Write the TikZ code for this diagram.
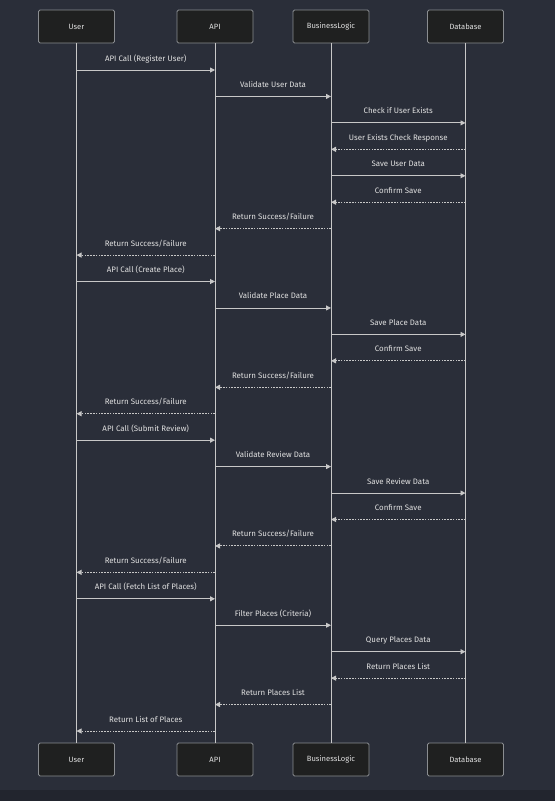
\documentclass[tikz,border=0pt]{standalone}
\usepackage{fontspec}
\setmainfont{Fira Sans}
\usetikzlibrary{arrows.meta,calc}
\definecolor{bgc}{HTML}{2A2E39}
\definecolor{stripc}{HTML}{22252E}
\definecolor{boxfill}{HTML}{1F2020}
\definecolor{boxdraw}{HTML}{8A8D91}
\definecolor{linec}{HTML}{C8C8C8}
\definecolor{txtc}{HTML}{E0E0E0}
\tikzset{
  actor/.style={draw=boxdraw, fill=boxfill, line width=0.8pt, rounded corners=1.5pt,
    minimum width=76pt, minimum height=33pt, inner sep=0pt, text=txtc,
    font=\fontsize{7.6}{9}\selectfont},
  life/.style={draw=linec, line width=0.9pt},
  msg/.style={draw=linec, line width=0.9pt, -{Triangle[length=5pt,width=5pt]}},
  ret/.style={msg, dash pattern=on 1.6pt off 1.2pt},
  lbl/.style={text=txtc, font=\fontsize{7.9}{9}\selectfont, inner sep=0pt, anchor=base},
}
\begin{document}
\begin{tikzpicture}[x=1pt,y=-1pt]
\fill[bgc] (0,0) rectangle (555,801);
\fill[stripc] (0,790) rectangle (555,801);
\useasboundingbox (0,0) rectangle (555,801);
% actors top
\node[actor] (ut) at (76.5,26.5) {User};
\node[actor] (at) at (215,26.5) {API};
\node[actor] (bt) at (331,26.5) {BusinessLogic};
\node[actor] (dt) at (465.5,26.5) {Database};
% actors bottom
\node[actor] (ub) at (76.5,759.5) {User};
\node[actor] (ab) at (215,759.5) {API};
\node[actor] (bb) at (331,759.5) {BusinessLogic};
\node[actor] (db) at (465.5,759.5) {Database};
% lifelines
\draw[life] (ut.south) -- (ub.north);
\draw[life] (at.south) -- (ab.north);
\draw[life] (bt.south) -- (bb.north);
\draw[life] (dt.south) -- (db.north);
% x positions
\def\xU{76.5}\def\xA{215}\def\xB{331}\def\xD{465.5}
\newcommand{\msgline}[5]{% style, from-x, to-x, index, label
  \pgfmathsetmacro{\yy}{70+(#4-1)*26.44}
  \coordinate (s#4) at (#2,\yy);
  \coordinate (e#4) at (#3,\yy);
  \draw[#1] (s#4) -- (e#4);
  \node[lbl] (l#4) at ($(s#4)!0.5!(e#4)+(0,-9)$) {#5};
}
\msgline{msg}{\xU}{\xA}{1}{API Call (Register User)}
\msgline{msg}{\xA}{\xB}{2}{Validate User Data}
\msgline{msg}{\xB}{\xD}{3}{Check if User Exists}
\msgline{ret}{\xD}{\xB}{4}{User Exists Check Response}
\msgline{msg}{\xB}{\xD}{5}{Save User Data}
\msgline{ret}{\xD}{\xB}{6}{Confirm Save}
\msgline{ret}{\xB}{\xA}{7}{Return Success/Failure}
\msgline{ret}{\xA}{\xU}{8}{Return Success/Failure}
\msgline{msg}{\xU}{\xA}{9}{API Call (Create Place)}
\msgline{msg}{\xA}{\xB}{10}{Validate Place Data}
\msgline{msg}{\xB}{\xD}{11}{Save Place Data}
\msgline{ret}{\xD}{\xB}{12}{Confirm Save}
\msgline{ret}{\xB}{\xA}{13}{Return Success/Failure}
\msgline{ret}{\xA}{\xU}{14}{Return Success/Failure}
\msgline{msg}{\xU}{\xA}{15}{API Call (Submit Review)}
\msgline{msg}{\xA}{\xB}{16}{Validate Review Data}
\msgline{msg}{\xB}{\xD}{17}{Save Review Data}
\msgline{ret}{\xD}{\xB}{18}{Confirm Save}
\msgline{ret}{\xB}{\xA}{19}{Return Success/Failure}
\msgline{ret}{\xA}{\xU}{20}{Return Success/Failure}
\msgline{msg}{\xU}{\xA}{21}{API Call (Fetch List of Places)}
\msgline{msg}{\xA}{\xB}{22}{Filter Places (Criteria)}
\msgline{msg}{\xB}{\xD}{23}{Query Places Data}
\msgline{ret}{\xD}{\xB}{24}{Return Places List}
\msgline{ret}{\xB}{\xA}{25}{Return Places List}
\msgline{ret}{\xA}{\xU}{26}{Return List of Places}
\end{tikzpicture}
\end{document}
